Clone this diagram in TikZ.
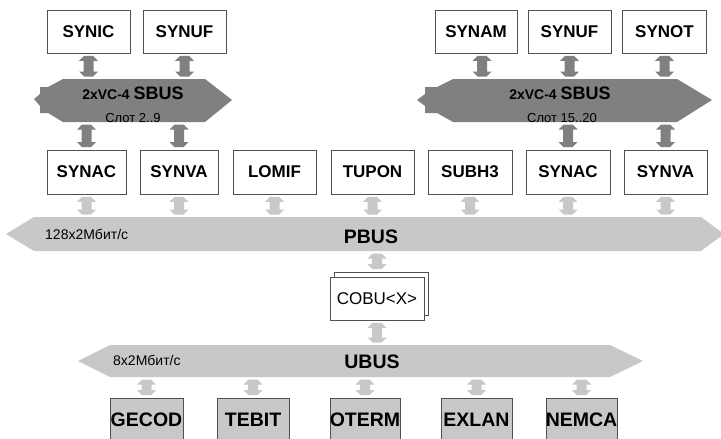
\documentclass[tikz,border=0pt]{standalone}
\usepackage{fontspec}
\setmainfont{Liberation Sans}
\usetikzlibrary{calc}

\definecolor{busdark}{HTML}{808080}
\definecolor{buslight}{HTML}{C8C8C8}
\definecolor{boxline}{HTML}{505050}

% Double-headed block arrow: x taken from #1, running from the y of #1 down to the y of #2
\newcommand\blkarr[3]{%
  \fill[#3] let \p1=(#1), \p2=(#2) in
    (\x1-4.5pt,\y1-2.5pt) -- (\x1+4.5pt,\y1-2.5pt) -- (\x1+9.5pt,\y1-7.5pt) -- (\x1+5pt,\y1-7.5pt) --
    (\x1+5pt,\y2+7.5pt) -- (\x1+9.5pt,\y2+7.5pt) -- (\x1+4.5pt,\y2+2.5pt) -- (\x1-4.5pt,\y2+2.5pt) --
    (\x1-9.5pt,\y2+7.5pt) -- (\x1-5pt,\y2+7.5pt) -- (\x1-5pt,\y1-7.5pt) -- (\x1-9.5pt,\y1-7.5pt) -- cycle;}

\tikzset{
  unit/.style={draw=boxline, line width=0.8pt, fill=white, minimum height=43pt, inner sep=0pt,
    font=\fontsize{17}{17}\selectfont\bfseries},
  module/.style={draw=boxline, line width=0.8pt, fill=buslight, minimum height=44pt, inner sep=0pt,
    font=\fontsize{19.5}{19.5}\selectfont\bfseries},
  busbody/.style={inner sep=0pt, outer sep=0pt},
  darkarrow/.style={fill=busdark},
  lightarrow/.style={fill=buslight},
  rate/.style={anchor=west, inner sep=0pt, font=\fontsize{14}{14}\selectfont},
  busname/.style={inner sep=0pt, font=\fontsize{19.5}{19.5}\selectfont\bfseries},
  slot/.style={inner sep=0pt, font=\fontsize{13}{13}\selectfont},
}

\begin{document}
\begin{tikzpicture}[x=1pt, y=-1pt]
\useasboundingbox (0,0) rectangle (721,439);
\fill[white] (0,0) rectangle (721,439);

% ---- bus outlines ----
\fill[busdark] (34,99) -- (40,94) -- (40,87) -- (48,87) -- (63,79) -- (205,79) -- (232,100)
  -- (205,122) -- (63,122) -- (48,113) -- (40,113) -- (40,106) -- cycle;
\fill[busdark] (417,100) -- (425,94) -- (425,87) -- (437,87) -- (453,79) -- (677,79) -- (712,100)
  -- (677,122) -- (453,122) -- (437,113) -- (425,113) -- (425,106) -- cycle;
\fill[buslight] (6,234) -- (34,217) -- (701,217) -- (724,234) -- (701,251) -- (34,251) -- cycle;
\fill[buslight] (78,361) -- (110,345) -- (610,345) -- (643,361) -- (610,377) -- (110,377) -- cycle;

% bus bodies used as anchors
\node[busbody, minimum width=142pt, minimum height=43pt] (sbusL) at (134,100.5) {};
\node[busbody, minimum width=224pt, minimum height=43pt] (sbusR) at (565,100.5) {};
\node[busbody, minimum width=667pt, minimum height=34pt] (pbus) at (367.5,234) {};
\node[busbody, minimum width=500pt, minimum height=32pt] (ubus) at (360,361) {};

% ---- units above the SBUS ----
\node[unit, minimum width=83pt] (synic)  at (88.5,31.5)  {\makebox[0pt]{SYNIC}};
\node[unit, minimum width=83pt] (synufA) at (184.5,31.5) {\makebox[0pt]{SYNUF}};
\node[unit, minimum width=82pt] (synam)  at (476,31.5)   {\makebox[0pt]{SYNAM}};
\node[unit, minimum width=83pt] (synufB) at (569.5,31.5) {\makebox[0pt]{SYNUF}};
\node[unit, minimum width=84pt] (synot)  at (664.5,31.5) {\makebox[0pt]{SYNOT}};

% ---- units on the PBUS ----
\node[unit, minimum width=79pt, minimum height=44pt] (synacA) at (86.5,172)  {\makebox[0pt]{SYNAC}};
\node[unit, minimum width=78pt, minimum height=44pt] (synvaA) at (179,172)   {\makebox[0pt]{SYNVA}};
\node[unit, minimum width=83pt, minimum height=44pt] (lomif)  at (274.5,172) {\makebox[0pt]{LOMIF}};
\node[unit, minimum width=83pt, minimum height=44pt] (tupon)  at (372.5,172) {\makebox[0pt]{TUPON}};
\node[unit, minimum width=84pt, minimum height=44pt] (subh)   at (470,172)   {\makebox[0pt]{SUBH3}};
\node[unit, minimum width=84pt, minimum height=44pt] (synacB) at (568,172)   {\makebox[0pt]{SYNAC}};
\node[unit, minimum width=83pt, minimum height=44pt] (synvaB) at (665.5,172) {\makebox[0pt]{SYNVA}};

% ---- COBU (stacked) ----
\node[unit, minimum width=94pt, font=\fontsize{17}{17}\selectfont] (cobuback) at (381,293.5) {};
\node[unit, minimum width=94pt, font=\fontsize{17}{17}\selectfont] (cobu) at (377,298.5) {\makebox[0pt]{COBU<X>}};

% ---- modules on the UBUS ----
\node[module, minimum width=73pt] (gecod) at (146.5,420) {\makebox[0pt]{GECOD}};
\node[module, minimum width=72pt] (tebit) at (253,420)   {\makebox[0pt]{TEBIT}};
\node[module, minimum width=70pt] (oterm) at (365,420)   {\makebox[0pt]{OTERM}};
\node[module, minimum width=71pt] (exlan) at (476.5,420) {\makebox[0pt]{EXLAN}};
\node[module, minimum width=71pt] (nemca) at (581.5,420) {\makebox[0pt]{NEMCA}};

% ---- SBUS connections ----
\blkarr{synic.south}{sbusL.north}{darkarrow}
\blkarr{synufA.south}{sbusL.north}{darkarrow}
\blkarr{sbusL.south -| synacA.north}{synacA.north}{darkarrow}
\blkarr{sbusL.south -| synvaA.north}{synvaA.north}{darkarrow}
\blkarr{[xshift=6pt]synam.south}{sbusR.north}{darkarrow}
\blkarr{synufB.south}{sbusR.north}{darkarrow}
\blkarr{synot.south}{sbusR.north}{darkarrow}
\blkarr{sbusR.south -| synacB.north}{synacB.north}{darkarrow}
\blkarr{sbusR.south -| synvaB.north}{synvaB.north}{darkarrow}

% ---- PBUS connections ----
\foreach \u in {synacA,synvaA,lomif,tupon,subh,synacB,synvaB}
  {\blkarr{\u.south}{pbus.north}{lightarrow}}
\blkarr{pbus.south -| cobu.north}{cobuback.north}{lightarrow}

% ---- UBUS connections ----
\blkarr{cobu.south}{ubus.north}{lightarrow}
\foreach \m in {gecod,tebit,oterm,exlan,nemca}
  {\blkarr{ubus.south -| \m.north}{\m.north}{lightarrow}}

% ---- bus labels ----
\node[inner sep=0pt] (sbusLname) at (133,93)
  {\fontsize{14}{14}\selectfont\bfseries 2xVC-4 \fontsize{18}{18}\selectfont SBUS};
\node[slot] (sbusLslot) at (133,118) {Слот 2..9};
\node[inner sep=0pt] (sbusRname) at (560,93)
  {\fontsize{14}{14}\selectfont\bfseries 2xVC-4 \fontsize{18}{18}\selectfont SBUS};
\node[slot] (sbusRslot) at (562,118) {Слот 15..20};
\node[busname] (pbusname) at (371,237) {PBUS};
\node[rate] (pbusrate) at (45,234) {128x2Мбит/с};
\node[busname] (ubusname) at (372,362) {UBUS};
\node[rate] (ubusrate) at (113,360) {8x2Мбит/с};
\end{tikzpicture}
\end{document}
